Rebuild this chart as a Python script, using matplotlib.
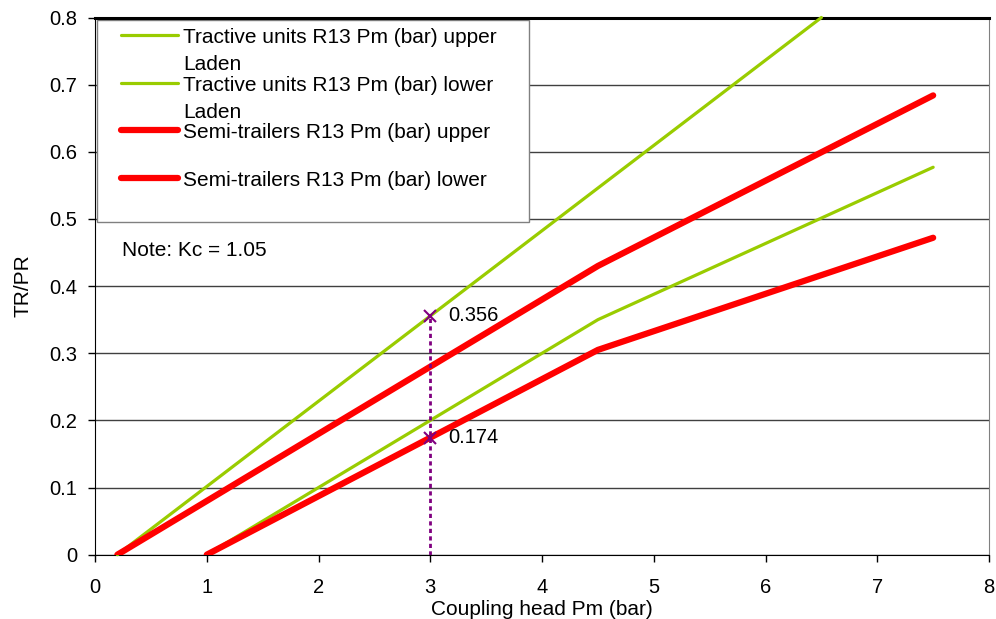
import matplotlib
matplotlib.use('Agg')
import matplotlib.pyplot as plt
from matplotlib.patches import Rectangle

plt.rcParams['font.family'] = ['Liberation Sans', 'DejaVu Sans']

# R13 coupling head pressure bands (Kc = 1.05)
tractive_upper_x = [0.2, 4.5, 6.5]
tractive_upper_y = [0.0, 0.546, 0.8]
tractive_lower_x = [1.0, 4.5, 7.5]
tractive_lower_y = [0.0, 0.35, 0.577]
semi_upper_x = [0.2, 4.5, 7.5]
semi_upper_y = [0.0, 0.43, 0.684]
semi_lower_x = [1.0, 4.5, 7.5]
semi_lower_y = [0.0, 0.305, 0.472]

# check points at Pm = 3 bar
check_x = [3, 3]
check_y = [0.356, 0.174]

x_ticks = [0, 1, 2, 3, 4, 5, 6, 7, 8]
y_ticks = [0, 0.1, 0.2, 0.3, 0.4, 0.5, 0.6, 0.7, 0.8]
y_tick_labels = ['0', '0.1', '0.2', '0.3', '0.4', '0.5', '0.6', '0.7', '0.8']

series_labels = [
    'Tractive units R13 Pm (bar) upper\nLaden',
    'Tractive units R13 Pm (bar) lower\nLaden',
    'Semi-trailers R13 Pm (bar) upper',
    'Semi-trailers R13 Pm (bar) lower',
]

GREEN = '#99CC00'
RED = '#FF0000'
PURPLE = '#800080'

fig = plt.figure(figsize=(9.96, 6.19), dpi=100)
ax = fig.add_axes([0.0954, 0.1039, 0.8976, 0.8678])

ax.set_xlim(0, 8)
ax.set_ylim(0, 0.8)
ax.set_xticks(x_ticks)
ax.set_yticks(y_ticks)
ax.set_yticklabels(y_tick_labels)
ax.tick_params(direction='out', length=5, width=1, labelsize=14.5, colors='black')
ax.tick_params(axis='x', pad=12)
ax.tick_params(axis='y', pad=8)

ax.yaxis.grid(True, color='#404040', linewidth=1)
ax.set_axisbelow(True)

ax.spines['left'].set_color('black')
ax.spines['bottom'].set_color('black')
ax.spines['top'].set_color('black')
ax.spines['top'].set_linewidth(2.2)
ax.spines['right'].set_color('#808080')

ax.plot(tractive_upper_x, tractive_upper_y, color=GREEN, lw=2.3,
        solid_capstyle='round', zorder=3, clip_on=False)
ax.plot(tractive_lower_x, tractive_lower_y, color=GREEN, lw=2.3,
        solid_capstyle='round', zorder=3)
ax.plot(semi_upper_x, semi_upper_y, color=RED, lw=4.5,
        solid_capstyle='round', zorder=4)
ax.plot(semi_lower_x, semi_lower_y, color=RED, lw=4.5,
        solid_capstyle='round', zorder=4)

# dotted drop line and check markers
ax.plot([check_x[0], check_x[0]], [0, max(check_y)], color=PURPLE, lw=2,
        linestyle=(0, (1.5, 1.2)), zorder=5)
ax.plot(check_x, check_y, linestyle='none', marker='x', color=PURPLE,
        markersize=9, markeredgewidth=1.5, zorder=6)
for xv, yv in zip(check_x, check_y):
    ax.text(xv + 0.16, yv, f'{yv:.3f}', fontsize=14.5, va='center', ha='left', zorder=6)

# legend box drawn by hand so wrapped labels keep the handle on the first line
ax.add_patch(Rectangle((0.02, 0.496), 3.86, 0.301, facecolor='white',
                       edgecolor='#808080', lw=1, zorder=2.5))
legend_colors = [GREEN, GREEN, RED, RED]
legend_widths = [2.3, 2.3, 4.5, 4.5]
legend_rows = [0.7735, 0.702, 0.6325, 0.5614]
for lab, col, lw, yr in zip(series_labels, legend_colors, legend_widths, legend_rows):
    ax.plot([0.233, 0.743], [yr, yr], color=col, lw=lw, solid_capstyle='round', zorder=7)
    ax.text(0.7875, yr + 0.0105, lab, fontsize=15, va='top', ha='left',
            linespacing=1.5, zorder=7)

ax.text(0.24, 0.445, 'Note: Kc = 1.05', fontsize=15, va='baseline', ha='left')

ax.set_xlabel('Coupling head Pm (bar)', fontsize=15, labelpad=2)
ax.set_ylabel('TR/PR', fontsize=15, labelpad=12)

fig.savefig('out.png', dpi=100, facecolor='white')
